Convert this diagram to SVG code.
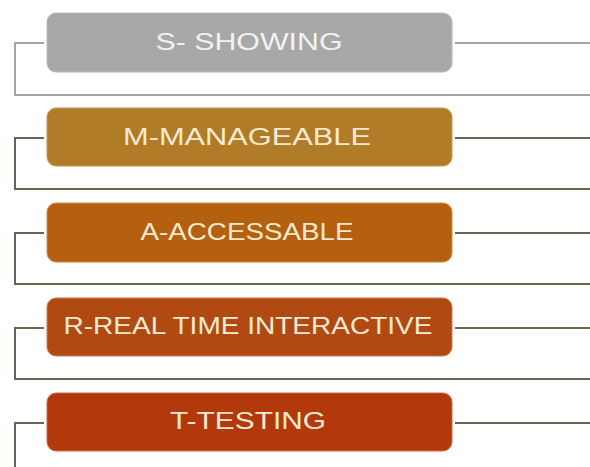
<svg xmlns="http://www.w3.org/2000/svg" width="590" height="467" viewBox="0 0 590 467">
<style>
.box{stroke-width:1}
.lbl{font-family:"Liberation Sans","DejaVu Sans",sans-serif;font-size:24px;text-anchor:middle;fill:#f6ead2}
.c{fill:none;stroke:#6b6452;stroke-width:2}
.cg{fill:none;stroke:#a3a3a3;stroke-width:2}
</style>
<rect width="590" height="467" fill="#ffffff"/>
<g id="connectors">
<path class="cg" d="M44 43H15V95H590M455 43H590"/>
<path class="c" d="M44 138H15V189H590M455 138H590"/>
<path class="c" d="M44 233H15V284H590M455 233H590"/>
<path class="c" d="M44 328H15V379H590M455 328H590"/>
<path class="c" d="M44 423H15V467M455 423H590"/>
</g>
<g id="n1">
<rect class="box" x="47" y="13" width="405" height="59" rx="9" fill="#a8a8a8" stroke="#b8b8b8"/>
<text class="lbl" x="249" y="50" textLength="187" lengthAdjust="spacingAndGlyphs" fill="#f2f2f2" style="fill:#f2f2f2">S- SHOWING</text>
</g>
<g id="n2">
<rect class="box" x="47" y="108" width="405" height="58" rx="9" fill="#b07c27" stroke="#c49a55"/>
<text class="lbl" x="247" y="145" textLength="248" lengthAdjust="spacingAndGlyphs">M-MANAGEABLE</text>
</g>
<g id="n3">
<rect class="box" x="47" y="203" width="405" height="59" rx="9" fill="#b5600e" stroke="#cf8a4a"/>
<text class="lbl" x="247" y="240" textLength="213" lengthAdjust="spacingAndGlyphs">A-ACCESSABLE</text>
</g>
<g id="n4">
<rect class="box" x="47" y="298" width="405" height="58" rx="9" fill="#b04a12" stroke="#cc7a4a"/>
<text class="lbl" x="248" y="334" textLength="369" lengthAdjust="spacingAndGlyphs">R-REAL TIME INTERACTIVE</text>
</g>
<g id="n5">
<rect class="box" x="47" y="393" width="405" height="58" rx="9" fill="#b3390d" stroke="#cc6a45"/>
<text class="lbl" x="248" y="429" textLength="156" lengthAdjust="spacingAndGlyphs">T-TESTING</text>
</g>
</svg>
